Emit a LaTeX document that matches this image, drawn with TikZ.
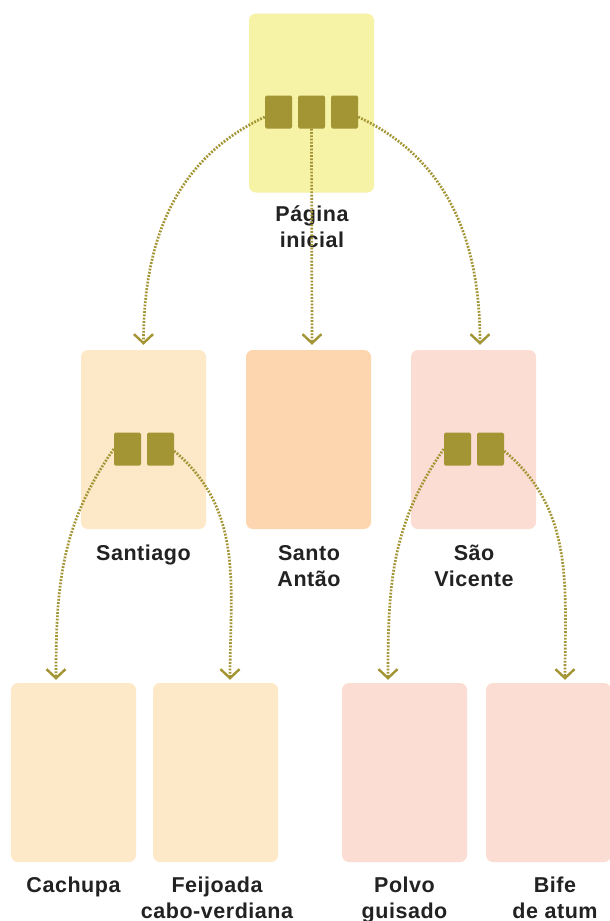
\documentclass[tikz,border=0pt]{standalone}
\usepackage{fontspec}
\setmainfont{Liberation Sans}[LetterSpace=2.5]
\usetikzlibrary{arrows.meta,calc}
\definecolor{topc}{HTML}{F6F2A6}
\definecolor{sandc}{HTML}{FDE8C8}
\definecolor{orangec}{HTML}{FDD5AF}
\definecolor{pinkc}{HTML}{FBDDD3}
\definecolor{olivec}{HTML}{A39434}
\definecolor{ink}{HTML}{222222}
\begin{document}
\begin{tikzpicture}[x=1pt,y=-1pt,
  card/.style={rounded corners=7pt, minimum width=125pt, minimum height=179pt, inner sep=0pt, draw=none},
  sq/.style={fill=olivec, rounded corners=1.5pt, minimum width=27pt, minimum height=33pt, inner sep=0pt},
  lbl/.style={font=\bfseries\fontsize{21.5}{26}\selectfont, text=ink, align=center, anchor=base, inner sep=0pt},
  link/.style={draw=olivec, line width=2.7pt, dash pattern=on 1.8pt off 1.5pt,
     -{Straight Barb[length=9pt,width=19pt,line width=2.4pt]}}
]
\useasboundingbox (0,0) rectangle (610,921);
\fill[white] (0,0) rectangle (610,921);

% cards
\node[card, fill=topc]    (home) at (311.5,103) {};
\node[card, fill=sandc]   (sant) at (143.5,439.5) {};
\node[card, fill=orangec] (anta) at (308.5,439.5) {};
\node[card, fill=pinkc]   (vice) at (473.5,439.5) {};
\node[card, fill=sandc]   (cach) at (73.5,772.5) {};
\node[card, fill=sandc]   (feij) at (215.5,772.5) {};
\node[card, fill=pinkc]   (polv) at (404.5,772.5) {};
\node[card, fill=pinkc]   (bife) at (548.5,772.5) {};

% squares
\node[sq] (h1) at (278.5,112) {};
\node[sq] (h2) at (311.5,112) {};
\node[sq] (h3) at (344.5,112) {};
\node[sq] (s1) at (127.5,449) {};
\node[sq] (s2) at (160.5,449) {};
\node[sq] (v1) at (457.5,449) {};
\node[sq] (v2) at (490.5,449) {};

% labels (base = baseline of last line)
\node[lbl] (lhome) at (312,247) {Página\\inicial};
\node[lbl] (lsant) at (143.5,560) {Santiago};
\node[lbl] (lanta) at (309,586) {Santo\\Antão};
\node[lbl] (lvice) at (474,586) {São\\Vicente};
\node[lbl] (lcach) at (73.5,892) {Cachupa};
\node[lbl] (lfeij) at (217,918) {Feijoada\\cabo-verdiana};
\node[lbl] (lpolv) at (404.5,918) {Polvo\\guisado};
\node[lbl] (lbife) at (555,918) {Bife\\de atum};

% connectors
\draw[link] ($(h1.west)+(0,5)$) to[out=205,in=90] ($(sant.north)+(0,-5)$);
\draw[link] (h2.south) -- ($(anta.north)+(3.5,-5)$);
\draw[link] ($(h3.east)+(0,5)$) to[out=-25,in=90] ($(vice.north)+(6.5,-5)$);
\draw[link] (s1.west) to[out=235,in=90] ($(cach.north)+(-17.5,-3)$);
\draw[link] ($(s2.east)+(0,2)$) to[out=-40,in=90] ($(feij.north)+(14.5,-3)$);
\draw[link] (v1.west) to[out=235,in=90] ($(polv.north)+(-16.5,-3)$);
\draw[link] ($(v2.east)+(0,2)$) to[out=-40,in=90] ($(bife.north)+(16.5,-3)$);
\end{tikzpicture}
\end{document}
